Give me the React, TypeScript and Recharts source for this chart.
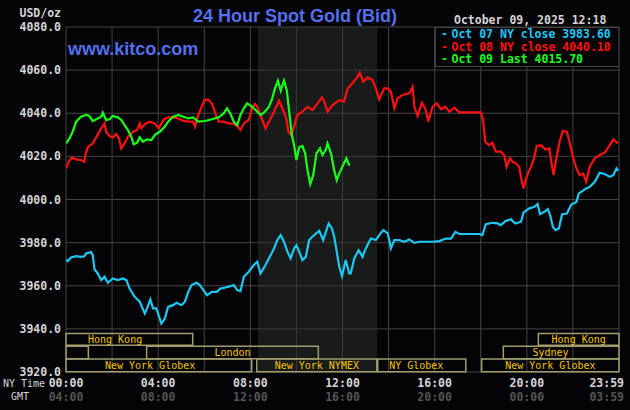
import { LineChart, Line, XAxis, YAxis, CartesianGrid, ReferenceArea } from 'recharts';

// [hour of NY day, price]
const oct07: [number, number][] = [
  [0, 3972.2], [0.07, 3971.4], [0.22, 3973.1], [0.44, 3973.7], [0.65, 3973.4], [0.8, 3973.7], [0.87, 3975.0],
  [1.09, 3975.6], [1.16, 3974.2], [1.24, 3967.5], [1.38, 3965.7], [1.53, 3962.6], [1.67, 3964.2], [1.82, 3961.4],
  [2.03, 3963.4], [2.25, 3962.6], [2.47, 3963.4], [2.62, 3962.6], [2.76, 3958.7], [2.98, 3954.9], [3.2, 3952.6],
  [3.42, 3947.1], [3.52, 3949.5], [3.66, 3953.6], [3.78, 3949.5], [3.92, 3949.5], [4.07, 3944.8], [4.14, 3942.5],
  [4.29, 3944.8], [4.43, 3950.2], [4.65, 3951.0], [4.8, 3952.1], [5.01, 3951.0], [5.16, 3952.6], [5.31, 3957.2],
  [5.45, 3960.3], [5.67, 3961.4], [5.81, 3960.3], [5.96, 3958.0], [6.12, 3955.6], [6.33, 3957.2], [6.55, 3957.2],
  [6.7, 3958.7], [6.92, 3959.2], [7.13, 3959.8], [7.28, 3960.3], [7.43, 3958.0], [7.57, 3957.5], [7.72, 3964.2],
  [7.93, 3966.5], [8.15, 3969.6], [8.3, 3971.1], [8.44, 3965.7], [8.66, 3969.6], [8.81, 3972.7], [9.03, 3977.3],
  [9.17, 3981.2], [9.32, 3983.5], [9.46, 3980.4], [9.61, 3975.8], [9.75, 3972.7], [9.9, 3977.3], [10.0, 3978.8],
  [10.12, 3975.8], [10.26, 3971.9], [10.41, 3973.4], [10.55, 3981.2], [10.77, 3983.5], [10.99, 3985.5],
  [11.16, 3981.2], [11.4, 3988.9], [11.54, 3986.6], [11.64, 3982.7], [11.75, 3975.8], [11.86, 3968.8],
  [11.98, 3964.5], [12.14, 3971.9], [12.29, 3965.7], [12.36, 3965.7], [12.51, 3972.7], [12.7, 3976.5],
  [12.87, 3973.4], [13.01, 3977.3], [13.23, 3981.9], [13.45, 3981.2], [13.67, 3984.6], [13.78, 3985.8],
  [13.96, 3984.3], [14.03, 3981.2], [14.1, 3977.3], [14.25, 3981.2], [14.46, 3981.2], [14.68, 3980.4],
  [14.9, 3981.5], [15.12, 3979.9], [15.33, 3980.4], [15.62, 3980.4], [15.91, 3980.4], [16.2, 3980.7],
  [16.49, 3981.9], [16.71, 3981.9], [16.9, 3985.0], [17.07, 3984.0], [17.36, 3984.0], [17.94, 3984.0],
  [18.07, 3983.5], [18.22, 3988.6], [18.51, 3989.2], [18.73, 3988.9], [18.87, 3988.1], [19.09, 3990.1],
  [19.31, 3990.8], [19.5, 3988.9], [19.75, 3989.7], [19.85, 3993.9], [20.11, 3995.9], [20.33, 3996.6],
  [20.47, 3997.9], [20.57, 3993.2], [20.76, 3994.3], [20.91, 3995.6], [21.01, 3992.8], [21.13, 3987.4],
  [21.24, 3985.8], [21.39, 3986.6], [21.53, 3993.2], [21.74, 3993.5], [21.93, 3997.7], [22.15, 3998.9],
  [22.26, 4002.8], [22.51, 4004.7], [22.73, 4005.9], [22.95, 4008.2], [23.16, 4012.4], [23.38, 4011.8],
  [23.6, 4010.5], [23.75, 4011.3], [23.89, 4014.4], [23.96, 4013.3],
];

const oct08: [number, number][] = [
  [0, 4014.4], [0.12, 4017.5], [0.26, 4019.5], [0.44, 4018.6], [0.65, 4018.3], [0.8, 4017.5], [0.84, 4020.6],
  [0.94, 4024.2], [1.16, 4026.0], [1.31, 4028.8], [1.53, 4033.0], [1.67, 4035.3], [1.74, 4031.4], [1.89, 4029.4],
  [2.03, 4028.8], [2.18, 4030.4], [2.3, 4028.3], [2.4, 4023.7], [2.54, 4026.0], [2.69, 4029.1], [2.91, 4031.4],
  [3.08, 4032.2], [3.2, 4035.3], [3.27, 4033.0], [3.46, 4035.3], [3.63, 4036.1], [3.85, 4035.3], [4.03, 4033.0],
  [4.22, 4036.9], [4.43, 4038.1], [4.65, 4038.1], [4.87, 4037.6], [5.09, 4036.5], [5.31, 4036.1], [5.52, 4036.1],
  [5.6, 4033.8], [5.74, 4039.2], [5.89, 4043.0], [6.03, 4046.4], [6.19, 4046.1], [6.33, 4044.6], [6.48, 4039.9],
  [6.63, 4036.1], [6.84, 4036.1], [7.06, 4035.3], [7.28, 4035.0], [7.43, 4034.1], [7.57, 4032.2], [7.72, 4035.3],
  [7.93, 4036.9], [8.08, 4042.3], [8.2, 4044.3], [8.3, 4043.0], [8.44, 4039.2], [8.66, 4033.0], [8.81, 4036.1],
  [9.03, 4040.7], [9.24, 4045.8], [9.39, 4042.3], [9.56, 4037.6], [9.65, 4031.4], [9.77, 4029.9], [9.9, 4033.8],
  [10.04, 4039.2], [10.26, 4040.7], [10.48, 4043.0], [10.7, 4041.5], [10.92, 4044.6], [11.11, 4047.4],
  [11.21, 4045.4], [11.35, 4040.7], [11.57, 4043.8], [11.86, 4046.1], [12.07, 4045.4], [12.22, 4051.5],
  [12.43, 4053.9], [12.65, 4057.0], [12.75, 4058.8], [12.9, 4054.6], [13.09, 4056.6], [13.3, 4055.4],
  [13.45, 4051.5], [13.59, 4046.4], [13.81, 4051.5], [13.96, 4051.5], [14.1, 4050.0], [14.25, 4042.3],
  [14.39, 4046.9], [14.61, 4048.5], [14.9, 4049.2], [15.04, 4052.3], [15.12, 4043.0], [15.26, 4038.7],
  [15.45, 4044.9], [15.62, 4041.5], [15.72, 4036.1], [15.91, 4043.0], [16.09, 4044.6], [16.28, 4041.8],
  [16.46, 4043.0], [16.64, 4040.7], [16.86, 4042.6], [17.07, 4040.4], [17.36, 4040.4], [17.65, 4040.4],
  [18.01, 4040.4], [18.1, 4036.9], [18.19, 4026.8], [18.36, 4025.2], [18.51, 4026.3], [18.65, 4022.2],
  [18.87, 4022.2], [19.02, 4020.6], [19.12, 4015.2], [19.27, 4019.1], [19.38, 4017.5], [19.53, 4016.7],
  [19.67, 4015.2], [19.77, 4009.0], [19.86, 4005.1], [19.99, 4010.5], [20.18, 4015.2], [20.33, 4019.8],
  [20.43, 4024.8], [20.62, 4025.2], [20.81, 4023.2], [20.98, 4023.7], [21.05, 4018.3], [21.16, 4011.3],
  [21.27, 4018.3], [21.42, 4026.8], [21.56, 4031.9], [21.74, 4031.4], [21.85, 4026.8], [22.0, 4019.8],
  [22.15, 4014.4], [22.29, 4011.3], [22.44, 4012.1], [22.58, 4008.2], [22.73, 4015.2], [22.95, 4019.1],
  [23.16, 4020.6], [23.38, 4021.7], [23.6, 4025.2], [23.75, 4027.9], [23.96, 4026.0],
];

const oct09: [number, number][] = [
  [0, 4026.0], [0.15, 4028.3], [0.29, 4031.4], [0.44, 4036.1], [0.65, 4038.4], [0.87, 4039.2], [1.02, 4038.7],
  [1.16, 4036.4], [1.38, 4037.6], [1.53, 4038.4], [1.6, 4040.3], [1.74, 4036.9], [1.89, 4037.2], [2.03, 4038.7],
  [2.25, 4038.1], [2.4, 4036.9], [2.54, 4034.5], [2.69, 4032.2], [2.83, 4029.1], [2.94, 4025.6], [3.08, 4026.3],
  [3.2, 4028.8], [3.34, 4026.8], [3.52, 4027.9], [3.71, 4027.6], [3.85, 4029.9], [4.07, 4031.4], [4.29, 4033.8],
  [4.43, 4036.1], [4.65, 4038.4], [4.87, 4039.2], [5.09, 4038.4], [5.31, 4037.6], [5.52, 4038.1], [5.74, 4036.1],
  [6.03, 4036.4], [6.33, 4037.2], [6.63, 4038.1], [6.84, 4039.9], [6.99, 4042.3], [7.13, 4039.9], [7.28, 4036.1],
  [7.43, 4034.5], [7.57, 4039.2], [7.72, 4042.3], [7.86, 4044.6], [8.08, 4043.0], [8.3, 4040.7], [8.44, 4039.2],
  [8.59, 4040.3], [8.81, 4043.0], [8.95, 4046.9], [9.07, 4051.5], [9.2, 4055.1], [9.32, 4050.5], [9.46, 4055.1],
  [9.58, 4050.8], [9.68, 4041.5], [9.8, 4029.9], [9.9, 4025.2], [10.0, 4018.3], [10.12, 4024.2], [10.26, 4024.8],
  [10.38, 4021.4], [10.48, 4013.6], [10.6, 4007.2], [10.73, 4011.3], [10.87, 4021.4], [11.02, 4023.7],
  [11.13, 4020.6], [11.28, 4023.2], [11.35, 4026.0], [11.5, 4021.4], [11.64, 4013.6], [11.75, 4009.0],
  [11.86, 4012.1], [12.03, 4016.0], [12.17, 4019.1], [12.3, 4015.7],
];

const priceTicks = [3920, 3940, 3960, 3980, 4000, 4020, 4040, 4060, 4080];
const hourTicks = [0, 2, 4, 6, 8, 10, 12, 14, 16, 18, 20, 22, 24];

const legendItems = [
  { text: 'Oct 07 NY close 3983.60', color: '#1ec8f5' },
  { text: 'Oct 08 NY close 4040.10', color: '#ff1010' },
  { text: 'Oct 09 Last 4015.70', color: '#1aff1a' },
];

// NYMEX pit hours (shaded)
const pitHours = [8.33, 13.5];

type Session = { row: number; from: number; to: number; name: string; at?: number };
const sessions: Session[] = [
  { row: 0, from: 0, to: 5.5, name: 'Hong Kong', at: 2.13 },
  { row: 0, from: 20.5, to: 24, name: 'Hong Kong' },
  { row: 1, from: 0, to: 0.97, name: '' },
  { row: 1, from: 3.5, to: 10.95, name: 'London' },
  { row: 1, from: 18.98, to: 24, name: 'Sydney', at: 21.03 },
  { row: 2, from: 0, to: 8.06, name: 'New York Globex', at: 3.65 },
  { row: 2, from: 8.28, to: 13.49, name: 'New York NYMEX' },
  { row: 2, from: 13.53, to: 17.35, name: 'NY Globex', at: 15.2 },
  { row: 2, from: 18.04, to: 24, name: 'New York Globex' },
];
const sessionRows = [
  [3937.9, 3932.4],
  [3931.9, 3926.1],
  [3926.0, 3920.1],
];

const BG = '#040406';
const GRID = '#444444';
const MONO = "'DejaVu Sans Mono', monospace";
const LIGHT = '#d4d4d4';
const BLUE = '#5470ee';

const toPoints = (s: [number, number][]) => s.map(([t, v]) => ({ t, v }));

const pad = (n: number) => String(n).padStart(2, '0');

function HourTick({ x, y, payload }: any) {
  const h = payload.value as number;
  if (h % 4 !== 0) return <g />;
  const last = h === 24;
  const ny = last ? '23:59' : `${pad(h)}:00`;
  const gmt = last ? '03:59' : `${pad((h + 4) % 24)}:00`;
  const anchor = last ? 'end' : 'middle';
  const tx = last ? x + 5 : x;
  return (
    <g fontFamily={MONO} fontSize={11.5} fontWeight="bold">
      <text x={tx} y={y + 15} textAnchor={anchor} fill={LIGHT}>{ny}</text>
      <text x={tx} y={y + 29} textAnchor={anchor} fill="#555555">{gmt}</text>
    </g>
  );
}

const sessionLabel = (s: Session) => (p: any) => {
  const vb = p.viewBox;
  if (!vb || !s.name) return null;
  const at = s.at ?? (s.from + s.to) / 2;
  const cx = vb.x + ((at - s.from) / (s.to - s.from)) * vb.width;
  return (
    <text x={cx} y={vb.y + vb.height / 2} dy="0.36em" textAnchor="middle" fill="#f5c400" fontSize={10} fontFamily={MONO}>
      {s.name}
    </text>
  );
};

export default function App() {
  return (
    <div style={{ position: 'fixed', left: 0, top: 0, width: 630, height: 410, background: BG, overflow: 'hidden' }}>
      <div style={{ position: 'absolute', left: 0, top: 0 }}>
        <LineChart width={630} height={410} margin={{ top: 27, right: 11, bottom: 0, left: 0 }}>
          <CartesianGrid stroke={GRID} strokeWidth={1} />
          <XAxis
            type="number"
            dataKey="t"
            domain={[0, 24]}
            ticks={hourTicks}
            interval={0}
            allowDataOverflow
            axisLine={false}
            tickLine={false}
            tickSize={0}
            tickMargin={0}
            height={38}
            tick={<HourTick />}
          />
          <YAxis
            type="number"
            domain={[3920, 4080]}
            ticks={priceTicks}
            interval={0}
            allowDataOverflow
            width={66}
            axisLine={false}
            tickLine={false}
            tickSize={5}
            tickMargin={0}
            tickFormatter={(v: number) => v.toFixed(1)}
            tick={{ fill: LIGHT, fontSize: 11.5, fontFamily: MONO, fontWeight: 'bold' }}
          />
          <ReferenceArea x1={pitHours[0]} x2={pitHours[1]} y1={3920} y2={4080} fill="#2c322c" fillOpacity={0.5} />
          {sessions.map((s, i) => (
            <ReferenceArea
              key={i}
              x1={s.from}
              x2={s.to}
              y1={sessionRows[s.row][0]}
              y2={sessionRows[s.row][1]}
              fill="none"
              fillOpacity={0}
              stroke="#a09c6c"
              strokeWidth={1.5}
              label={sessionLabel(s)}
            />
          ))}
          <Line data={toPoints(oct07)} dataKey="v" type="linear" stroke="#1ec8f5" strokeWidth={2.2} dot={false} isAnimationActive={false} />
          <Line data={toPoints(oct08)} dataKey="v" type="linear" stroke="#ff1010" strokeWidth={2.2} dot={false} isAnimationActive={false} />
          <Line data={toPoints(oct09)} dataKey="v" type="linear" stroke="#1aff1a" strokeWidth={2.2} dot={false} isAnimationActive={false} />
        </LineChart>
      </div>
      <svg width={630} height={410} style={{ position: 'absolute', left: 0, top: 0, pointerEvents: 'none' }}>
        <text x={61} y={17} textAnchor="end" fill={LIGHT} fontFamily={MONO} fontSize={11.5} fontWeight="bold">USD/oz</text>
        <text x={295} y={22} textAnchor="middle" fill={BLUE} fontFamily="'Liberation Sans', Arial, sans-serif" fontSize={18} fontWeight="bold">
          24 Hour Spot Gold (Bid)
        </text>
        <text x={68} y={55} fill={BLUE} fontFamily="'Liberation Sans', Arial, sans-serif" fontSize={18} fontWeight="bold">
          www.kitco.com
        </text>
        <text x={454} y={24} fill={LIGHT} fontFamily={MONO} fontSize={11.5} fontWeight="bold">October 09, 2025 12:18</text>
        <rect x={435.5} y={27.5} width={183.5} height={39} fill={BG} stroke={GRID} strokeWidth={1} />
        {legendItems.map((it, i) => (
          <g key={i} fill={it.color} fontFamily={MONO} fontSize={11.5} fontWeight="bold">
            <text x={441} y={38 + i * 12.6}>-</text>
            <text x={451.5} y={38 + i * 12.6}>{it.text}</text>
          </g>
        ))}
        <text x={3} y={387} fill={LIGHT} fontFamily={MONO} fontSize={10}>NY Time</text>
        <text x={11} y={400} fill={LIGHT} fontFamily={MONO} fontSize={10}>GMT</text>
      </svg>
    </div>
  );
}
